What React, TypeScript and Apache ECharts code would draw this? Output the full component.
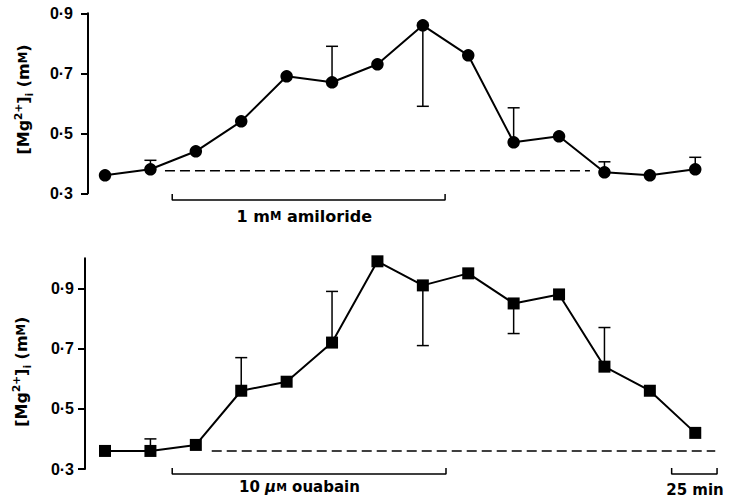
import React, { useEffect, useRef } from "react";
import * as echarts from "echarts";

// time-point index (each step = 25 min / one interval)
const timeIdx = [0, 1, 2, 3, 4, 5, 6, 7, 8, 9, 10, 11, 12, 13];

// Top panel: amiloride
const amilorideMean = [0.36, 0.38, 0.44, 0.54, 0.69, 0.67, 0.73, 0.86, 0.76, 0.47, 0.49, 0.37, 0.36, 0.38];
const amilorideErrEnd = [null, 0.41, null, null, null, 0.79, null, 0.59, null, 0.585, null, 0.405, null, 0.42];
const amilorideBaseline = 0.375;
const amilorideBaseRange = [1.32, 10.68];
const amilorideBar = [1.48, 7.49];

// Bottom panel: ouabain
const ouabainMean = [0.36, 0.36, 0.38, 0.56, 0.59, 0.72, 0.99, 0.91, 0.95, 0.85, 0.88, 0.64, 0.56, 0.42];
const ouabainErrEnd = [null, 0.4, null, 0.67, null, 0.89, null, 0.71, null, 0.75, null, 0.77, null, null];
const ouabainBaseline = 0.36;
const ouabainBaseRange = [2.35, 13.44];
const ouabainBar = [1.48, 7.51];
const scaleBar = [12.48, 13.48];

const yTicks = [0.3, 0.5, 0.7, 0.9];

const FONT = "DejaVu Sans";
const TICKFONT = "Liberation Sans";

function errData(mean: number[], errEnd: (number | null)[]) {
  const out: number[][] = [];
  timeIdx.forEach((t, i) => {
    const e = errEnd[i];
    if (e !== null && e !== undefined) out.push([t, mean[i], e]);
  });
  return out;
}

const renderErr = (params: any, api: any) => {
  const x = api.value(0);
  const a = api.value(1);
  const b = api.value(2);
  const p1 = api.coord([x, a]);
  const p2 = api.coord([x, b]);
  return {
    type: "group",
    children: [
      { type: "line", shape: { x1: p1[0], y1: p1[1], x2: p2[0], y2: p2[1] }, style: { stroke: "#000", lineWidth: 1.5 } },
      { type: "line", shape: { x1: p2[0] - 6, y1: p2[1], x2: p2[0] + 6, y2: p2[1] }, style: { stroke: "#000", lineWidth: 1.5 } },
    ],
  };
};

const fmt = (v: number) => v.toFixed(1).replace(".", "·");

export default function App() {
  const ref = useRef<HTMLDivElement>(null);
  useEffect(() => {
    if (!ref.current) return;
    const chart = echarts.init(ref.current, null, { renderer: "svg" });
    const xCommon = { type: "value", min: -0.375, max: 13.6, show: false };
    const yCommon = (max: number, offset: number, margin: number) => ({
      type: "value",
      min: 0.3,
      max,
      offset,
      axisLine: { show: true, onZero: false, lineStyle: { color: "#000", width: 2 } },
      axisTick: { show: true, length: 7, lineStyle: { color: "#000", width: 2 }, customValues: yTicks },
      axisLabel: {
        color: "#000",
        fontFamily: TICKFONT,
        fontWeight: "bold",
        fontSize: 16,
        margin,
        formatter: (v: number) => fmt(v),
        customValues: yTicks,
      },
      splitLine: { show: false },
    });
    const topBrY = [0.2977, 0.2777];
    const botBrY = [0.3033, 0.2834];
    const bracket = (xr: number[], yr: number[], idx: number) => ({
      type: "line",
      xAxisIndex: idx,
      yAxisIndex: idx,
      data: [
        [xr[0], yr[0]],
        [xr[0], yr[1]],
        [xr[1], yr[1]],
        [xr[1], yr[0]],
      ],
      showSymbol: false,
      symbol: "none",
      clip: false,
      silent: true,
      lineStyle: { color: "#000", width: 1.5 },
    });
    const mkRich = (fs: number) => ({
      n: { fontFamily: FONT, fontWeight: "bold", fontSize: fs, fill: "#000", lineHeight: 22 },
      sup: { fontFamily: FONT, fontWeight: "bold", fontSize: fs * 0.66, fill: "#000", lineHeight: 11, verticalAlign: "top" },
      sub: { fontFamily: FONT, fontWeight: "bold", fontSize: fs * 0.66, fill: "#000", lineHeight: 11, verticalAlign: "bottom" },
      sc: { fontFamily: FONT, fontWeight: "bold", fontSize: fs * 0.72, fill: "#000" },
      it: { fontFamily: FONT, fontWeight: "bold", fontSize: fs, fill: "#000", fontStyle: "italic" },
    });
    const nameText = "{n|[Mg}{sup|2+}{n|]}{sub|i}{n| (m}{sc|M}{n|)}";
    chart.setOption({
      animation: false,
      backgroundColor: "#fff",
      grid: [
        { left: 88, top: 13.3, width: 634.5, height: 180 },
        { left: 88, top: 258.3, width: 634.5, height: 210.7 },
      ],
      xAxis: [
        { ...xCommon, gridIndex: 0 },
        { ...xCommon, gridIndex: 1 },
      ],
      yAxis: [
        { ...yCommon(0.9, 0, 15), gridIndex: 0 },
        { ...yCommon(1.0, 3, 11), gridIndex: 1 },
      ],
      graphic: [
        {
          type: "text",
          x: 23,
          y: 99.5,
          rotation: Math.PI / 2,
          style: { text: nameText, rich: mkRich(16), align: "center", verticalAlign: "middle" },
        },
        {
          type: "text",
          x: 21,
          y: 371.7,
          rotation: Math.PI / 2,
          style: { text: nameText, rich: mkRich(16), align: "center", verticalAlign: "middle" },
        },
        {
          type: "text",
          x: 236.5,
          y: 216,
          style: {
            text: "{n|1 m}{sc|M}{n| amiloride}",
            rich: mkRich(16),
            align: "left",
            verticalAlign: "middle",
          },
        },
        {
          type: "text",
          x: 239,
          y: 487,
          style: {
            text: "{n|10 }{it|μ}{sc|M}{n| ouabain}",
            rich: mkRich(15),
            align: "left",
            verticalAlign: "middle",
          },
        },
        {
          type: "text",
          x: 695,
          y: 489.5,
          style: {
            text: "25 min",
            fontFamily: FONT,
            fontWeight: "bold",
            fontSize: 15,
            fill: "#000",
            align: "center",
            verticalAlign: "middle",
          },
        },
      ],
      series: [
        // top panel
        {
          type: "line",
          xAxisIndex: 0,
          yAxisIndex: 0,
          data: [
            [amilorideBaseRange[0], amilorideBaseline],
            [amilorideBaseRange[1], amilorideBaseline],
          ],
          symbol: "none",
          silent: true,
          lineStyle: { color: "#000", width: 1.5, type: [10, 5] },
        },
        {
          type: "custom",
          xAxisIndex: 0,
          yAxisIndex: 0,
          data: errData(amilorideMean, amilorideErrEnd),
          renderItem: renderErr,
          z: 2,
        },
        {
          type: "line",
          xAxisIndex: 0,
          yAxisIndex: 0,
          data: timeIdx.map((t, i) => [t, amilorideMean[i]]),
          symbol: "circle",
          symbolSize: 12.5,
          showAllSymbol: true,
          itemStyle: { color: "#000" },
          lineStyle: { color: "#000", width: 2 },
          z: 3,
        },
        bracket(amilorideBar, topBrY, 0),
        // bottom panel
        {
          type: "line",
          xAxisIndex: 1,
          yAxisIndex: 1,
          data: [
            [ouabainBaseRange[0], ouabainBaseline],
            [ouabainBaseRange[1], ouabainBaseline],
          ],
          symbol: "none",
          silent: true,
          lineStyle: { color: "#000", width: 1.5, type: [10, 5] },
        },
        {
          type: "custom",
          xAxisIndex: 1,
          yAxisIndex: 1,
          data: errData(ouabainMean, ouabainErrEnd),
          renderItem: renderErr,
          z: 2,
        },
        {
          type: "line",
          xAxisIndex: 1,
          yAxisIndex: 1,
          data: timeIdx.map((t, i) => [t, ouabainMean[i]]),
          symbol: "rect",
          symbolSize: 12,
          showAllSymbol: true,
          itemStyle: { color: "#000" },
          lineStyle: { color: "#000", width: 2 },
          z: 3,
        },
        bracket(ouabainBar, botBrY, 1),
        bracket(scaleBar, botBrY, 1),
      ],
    });
    return () => chart.dispose();
  }, []);
  return <div ref={ref} style={{ position: "absolute", left: 0, top: 0, width: 737, height: 503 }} />;
}
